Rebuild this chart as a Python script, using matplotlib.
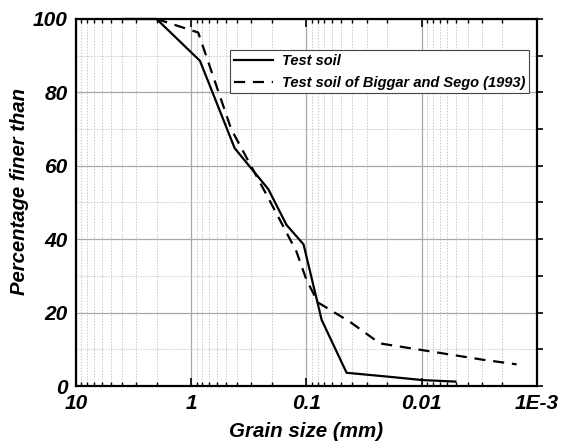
import numpy as np
import matplotlib
matplotlib.use("Agg")
import matplotlib.pyplot as plt
from matplotlib.ticker import FixedLocator, LogLocator, MultipleLocator, NullFormatter

plt.rcParams['font.family'] = ['Liberation Sans', 'DejaVu Sans']

# data (grain size in mm, percent finer)
test_d = [3.8, 2.0, 0.84, 0.42, 0.214, 0.149, 0.106, 0.0738, 0.0448, 0.0189, 0.0097, 0.0051]
test_p = [100, 100, 88.6, 64.8, 53.6, 43.9, 38.6, 18.0, 3.6, 2.5, 1.6, 1.2]

biggar_d = [2.0, 0.87, 0.45, 0.21, 0.164, 0.122, 0.1, 0.079, 0.042, 0.023, 0.012, 0.006, 0.003, 0.0015]
biggar_p = [100, 96.3, 70.0, 50.7, 44.3, 36.6, 28.9, 22.7, 17.5, 11.6, 10.2, 8.7, 7.2, 5.9]

x_ticks = [10, 1, 0.1, 0.01, 0.001]
x_labels = ['10', '1', '0.1', '0.01', '1E-3']
y_ticks = [0, 20, 40, 60, 80, 100]

fig = plt.figure(figsize=(5.61, 4.41), dpi=100)
ax = fig.add_axes([0.1355, 0.1247, 0.8215, 0.8323])

ax.plot(test_d, test_p, color='black', lw=1.6, label='Test soil', clip_on=False, zorder=5)
ax.plot(biggar_d, biggar_p, color='black', lw=1.6, dashes=(5, 3.5),
        label='Test soil of Biggar and Sego (1993)', zorder=4)

ax.set_xscale('log')
ax.set_xlim(10, 0.001)
ax.set_ylim(0, 100)

ax.xaxis.set_major_locator(FixedLocator(x_ticks))
ax.set_xticklabels(x_labels)
ax.xaxis.set_minor_locator(LogLocator(base=10, subs=np.arange(2, 10)))
ax.xaxis.set_minor_formatter(NullFormatter())
ax.set_yticks(y_ticks)
ax.yaxis.set_minor_locator(MultipleLocator(10))

ax.grid(True, which='major', color='#a8a8a8', lw=0.9, ls='-')
ax.grid(True, which='minor', color='#c8c8c8', lw=0.7, ls=(0, (1.5, 1.5)))
ax.set_axisbelow(True)

ax.tick_params(axis='x', which='major', direction='in', top=True, length=6, width=1.2,
               labelsize=15, pad=6)
ax.tick_params(axis='x', which='minor', direction='in', top=True, length=3, width=1)
ax.tick_params(axis='y', which='both', left=False, right=True, direction='out',
               length=4, width=1.2, labelsize=15, pad=2)
for lbl in ax.get_xticklabels() + ax.get_yticklabels():
    lbl.set_fontweight('bold')
    lbl.set_fontstyle('italic')

for s in ax.spines.values():
    s.set_linewidth(1.6)

ax.set_xlabel('Grain size (mm)', fontsize=14.8, fontweight='bold', fontstyle='italic', labelpad=6)
ax.set_ylabel('Percentage finer than', fontsize=14.6, fontweight='bold', fontstyle='italic')
ax.yaxis.set_label_coords(-0.102, 0.531)

leg = ax.legend(loc='upper right', bbox_to_anchor=(0.983, 0.9155),
                prop={'weight': 'bold', 'style': 'italic', 'size': 10.5},
                frameon=True, fancybox=False, edgecolor='#444444', framealpha=1,
                handlelength=2.7, borderpad=0.25, labelspacing=0.55, handletextpad=0.6,
                borderaxespad=0)
leg.get_frame().set_linewidth(0.8)

fig.savefig('out.png', dpi=100)
